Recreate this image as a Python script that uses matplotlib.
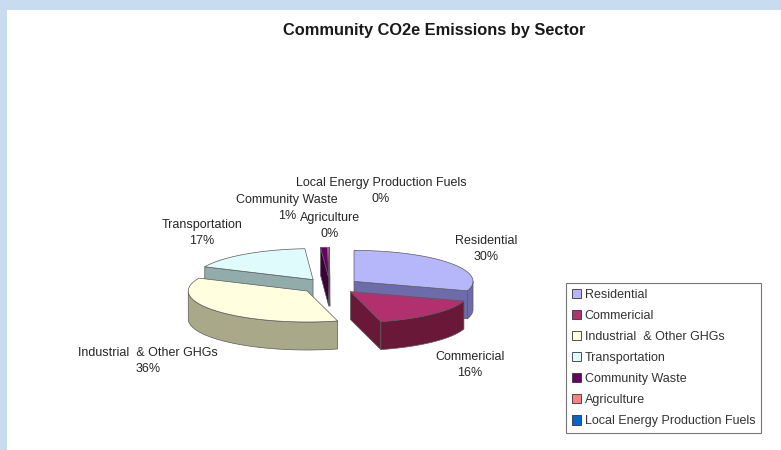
import numpy as np
import matplotlib.pyplot as plt
from matplotlib.patches import Polygon, Rectangle, Patch

plt.rcParams['font.family'] = ['Liberation Sans', 'DejaVu Sans']

# data
sectors = ["Residential", "Commericial", "Industrial  & Other GHGs", "Transportation",
           "Community Waste", "Agriculture", "Local Energy Production Fuels"]
shares = [29.9, 16.0, 35.9, 17.1, 0.9, 0.1, 0.1]

# styles (Excel 2003 palette, top face / side face)
top_colors = ["#b6b6fa", "#b3306f", "#ffffdf", "#e0fbfb", "#660066", "#ff8080", "#0066cc"]
side_colors = ["#6c6cab", "#6a1838", "#a9a98a", "#92abab", "#3d003d", "#a05050", "#003d7a"]

# label block centres in pixels (layout only)
label_pos = [(486, 249), (470, 365), (148, 361), (202, 233), (287, 208), (330, 226), (381, 191)]

W, H = 781, 450
cx, cy = 330, 286        # pie centre
rx, ry = 119, 31         # top ellipse radii
depth = 28
explode = 0.25

fig = plt.figure(figsize=(W / 100, H / 100), dpi=100, facecolor="#c9dbef")
ax = fig.add_axes([0, 0, 1, 1])
ax.set_xlim(0, W)
ax.set_ylim(H, 0)
ax.axis("off")
ax.add_patch(Rectangle((7, 10), W - 7, H - 10, facecolor="white", edgecolor="none", zorder=0))


def rim(t, tip):
    r = np.radians(t)
    return tip[0] + rx * np.sin(r), tip[1] - ry * np.cos(r)


total = sum(shares)
start = 0.0
slices = []
for i, v in enumerate(shares):
    sweep = 360.0 * v / total
    a1, a2 = start, start + sweep
    mid = np.radians((a1 + a2) / 2)
    tip = (cx + explode * rx * np.sin(mid), cy - explode * ry * np.cos(mid))
    slices.append((i, a1, a2, tip))
    start = a2

edge = dict(edgecolor="#5a5a5a", linewidth=0.5)
for i, a1, a2, tip in sorted(slices, key=lambda s: s[3][1]):
    z = 2 + tip[1] / 100.0
    faces = []
    # radial walls
    if np.sin(np.radians(a1)) < -1e-6:
        p = rim(a1, tip)
        faces.append([tip, p, (p[0], p[1] + depth), (tip[0], tip[1] + depth)])
    if np.sin(np.radians(a2)) > 1e-6:
        p = rim(a2, tip)
        faces.append([tip, p, (p[0], p[1] + depth), (tip[0], tip[1] + depth)])
    # outer wall, front half only
    lo, hi = max(a1, 90.0), min(a2, 270.0)
    if hi > lo:
        ts = np.linspace(lo, hi, 60)
        upper = [rim(t, tip) for t in ts]
        lower = [(x, y + depth) for x, y in upper[::-1]]
        faces.append(upper + lower)
    for f in faces:
        ax.add_patch(Polygon(f, closed=True, facecolor=side_colors[i], zorder=z, **edge))
    ts = np.linspace(a1, a2, max(3, int((a2 - a1) * 2)))
    top = [tip] + [rim(t, tip) for t in ts]
    lw = 0.5 if a2 - a1 > 2 else 0.2
    ax.add_patch(Polygon(top, closed=True, facecolor=top_colors[i], zorder=z + 0.001,
                         edgecolor="#5a5a5a", linewidth=lw))

# data labels, one text per line
for name, v, (lx, ly) in zip(sectors, shares, label_pos):
    ax.text(lx, ly - 8, name, ha="center", va="center", fontsize=9, color="#262626", zorder=10)
    ax.text(lx, ly + 8, "%d%%" % round(100 * v / total), ha="center", va="center",
            fontsize=9, color="#262626", zorder=10)

ax.text(434, 30, "Community CO2e Emissions by Sector", ha="center", va="center",
        fontsize=11.8, fontweight="bold", color="#1a1a1a")

handles = [Patch(facecolor=c, edgecolor="#333333", linewidth=0.6) for c in top_colors]
leg = fig.legend(handles, sectors, loc="upper left", bbox_to_anchor=(566 / W, 1 - 283 / H),
                 frameon=True, fancybox=False, edgecolor="#555555", fontsize=9,
                 handlelength=0.75, handleheight=0.75, handletextpad=0.3,
                 labelspacing=0.73, borderpad=0.45, borderaxespad=0)
leg.get_frame().set_linewidth(0.8)
for t in leg.get_texts():
    t.set_color("#333333")

fig.savefig("out.png", dpi=100, facecolor=fig.get_facecolor())
